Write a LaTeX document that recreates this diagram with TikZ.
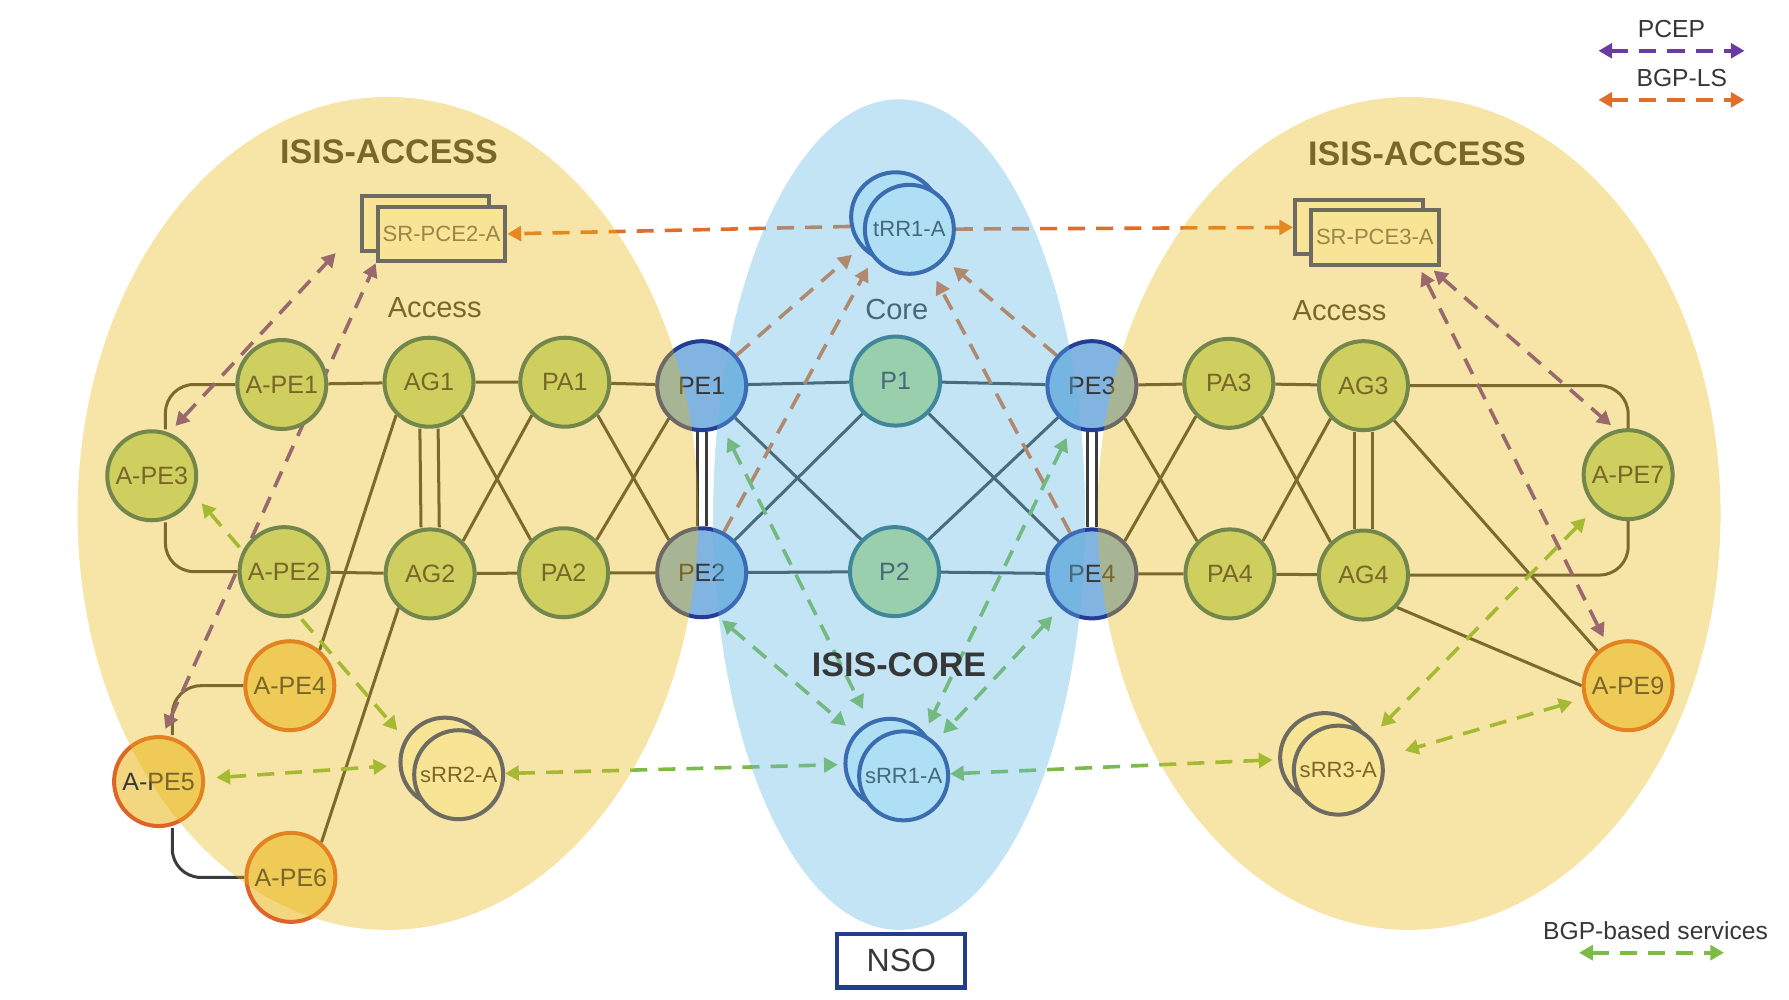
\documentclass[tikz,border=0pt]{standalone}
\usepackage{fontspec}
\setmainfont{Liberation Sans}
\usepackage{tikz}
\usetikzlibrary{arrows.meta, positioning}

\definecolor{linkgray}{RGB}{58,60,62}
\definecolor{txtgray}{RGB}{55,55,55}
\definecolor{nodegreen}{RGB}{190,222,140}
\definecolor{nodegreenline}{RGB}{45,105,108}
\definecolor{pefill}{RGB}{130,180,225}
\definecolor{peline}{RGB}{35,60,150}
\definecolor{apefill}{RGB}{242,214,128}
\definecolor{apeline}{RGB}{222,100,40}
\definecolor{rrfill}{RGB}{255,255,226}
\definecolor{corerrfill}{RGB}{222,248,255}
\definecolor{rrline}{RGB}{35,62,145}
\definecolor{nsoline}{RGB}{35,60,140}
\definecolor{pcepcol}{RGB}{105,60,165}
\definecolor{bgplscol}{RGB}{225,110,40}
\definecolor{svccol}{RGB}{125,187,70}
\definecolor{accesstint}{RGB}{234,183,20}
\definecolor{coretint}{RGB}{97,184,229}

\pgfdeclarelayer{back}
\pgfdeclarelayer{tint}
\pgfsetlayers{back,main,tint}

\begin{document}
\begin{tikzpicture}[
  router/.style={circle, draw=nodegreenline, fill=nodegreen, line width=2pt, minimum size=1.56cm, inner sep=0pt, text=txtgray, font=\fontsize{12.5}{14}\selectfont},
  pe/.style={router, draw=peline, fill=pefill},
  ape/.style={router, draw=apeline, fill=apefill},
  rr/.style={router, draw=rrline, fill=rrfill, font=\fontsize{11}{13}\selectfont},
  corerr/.style={rr, fill=corerrfill},
  pcebox/.style={rectangle, draw=rrline, fill=rrfill, line width=2pt, minimum width=2.24cm, minimum height=0.96cm, inner sep=0pt, text=txtgray!75, font=\fontsize{11}{13}\selectfont},
  nsobox/.style={rectangle, draw=nsoline, fill=white, line width=2pt, minimum width=2.24cm, minimum height=0.94cm, text=txtgray, font=\fontsize{16}{19}\selectfont},
  domaintitle/.style={text=txtgray, font=\bfseries\fontsize{17}{20}\selectfont},
  areatext/.style={text=txtgray, font=\fontsize{14.5}{17}\selectfont},
  keytext/.style={text=txtgray, font=\fontsize{12.3}{14}\selectfont},
  link/.style={draw=linkgray, line width=1.5pt},
  proto/.style={dash pattern=on 8.5pt off 5.5pt, line width=1.8pt, >={Triangle[length=0.24cm,width=0.26cm]}},
  pcep/.style={proto, color=pcepcol},
  bgpls/.style={proto, color=bgplscol},
  svc/.style={proto, color=svccol},
  accessarea/.style={fill=accesstint, fill opacity=0.374},
  corearea/.style={fill=coretint, fill opacity=0.38}
]
  \useasboundingbox (0,0) rectangle (31.36,-17.52);

  % labels
  \node[domaintitle] (accL) at (6.82,-2.66) {ISIS-ACCESS};
  \node[domaintitle] (accR) at (24.84,-2.70) {ISIS-ACCESS};
  \node[areatext] (areaL) at (7.62,-5.40) {Access};
  \node[areatext] (areaR) at (23.48,-5.44) {Access};
  \node[areatext] (areaC) at (15.72,-5.42) {Core};

  % PCEs and RRs
  \node[pcebox] (pce2b) at (7.46,-3.92) {};
  \node[pcebox] (pce2) at ([shift={(0.28,-0.18)}]pce2b) {SR-PCE2-A};
  \node[pcebox] (pce3b) at (23.82,-3.98) {};
  \node[pcebox] (pce3) at ([shift={(0.28,-0.18)}]pce3b) {SR-PCE3-A};
  \node[corerr] (trr1b) at (15.70,-3.80) {};
  \node[corerr] (trr1) at ([shift={(0.24,-0.22)}]trr1b) {tRR1-A};
  \node[rr] (srr2b) at (7.80,-13.36) {};
  \node[rr] (srr2) at ([shift={(0.24,-0.22)}]srr2b) {sRR2-A};
  \node[corerr] (srr1b) at (15.60,-13.38) {};
  \node[corerr] (srr1) at ([shift={(0.24,-0.22)}]srr1b) {sRR1-A};
  \node[rr] (srr3b) at (23.22,-13.28) {};
  \node[rr] (srr3) at ([shift={(0.24,-0.22)}]srr3b) {sRR3-A};

  % routers
  \node[router] (ape1) at (4.94,-6.74) {A-PE1};
  \node[router] (ag1) at (7.52,-6.70) {AG1};
  \node[router] (pa1) at (9.90,-6.70) {PA1};
  \node[pe] (pe1) at (12.30,-6.76) {PE1};
  \node[router] (p1) at (15.70,-6.68) {P1};
  \node[pe] (pe3) at (19.14,-6.76) {PE3};
  \node[router] (pa3) at (21.54,-6.72) {PA3};
  \node[router] (ag3) at (23.90,-6.76) {AG3};
  \node[router] (ape7) at (28.54,-8.32) {A-PE7};
  \node[router] (ape3) at (2.66,-8.34) {A-PE3};
  \node[router] (ape2) at (4.98,-10.02) {A-PE2};
  \node[router] (ag2) at (7.54,-10.06) {AG2};
  \node[router] (pa2) at (9.88,-10.04) {PA2};
  \node[pe] (pe2) at (12.30,-10.04) {PE2};
  \node[router] (p2) at (15.68,-10.02) {P2};
  \node[pe] (pe4) at (19.14,-10.06) {PE4};
  \node[router] (pa4) at (21.56,-10.06) {PA4};
  \node[router] (ag4) at (23.90,-10.08) {AG4};
  \node[ape] (ape4) at (5.08,-12.02) {A-PE4};
  \node[ape] (ape5) at (2.78,-13.70) {A-PE5};
  \node[ape] (ape6) at (5.10,-15.38) {A-PE6};
  \node[ape] (ape9) at (28.54,-12.02) {A-PE9};

  \node[nsobox] (nso) at (15.80,-16.84) {NSO};

  % legend
  \node[keytext] (keypcep) at (29.30,-0.50) {PCEP};
  \coordinate (pcepL) at (28.02,-0.89);
  \coordinate (pcepR) at (30.58,-0.89);
  \node[keytext] (keybgpls) at (29.48,-1.36) {BGP-LS};
  \coordinate (bgplsL) at (28.02,-1.75);
  \coordinate (bgplsR) at (30.58,-1.75);
  \node[keytext] (keysvc) at (29.02,-16.32) {BGP-based services};
  \coordinate (svcL) at (27.68,-16.70);
  \coordinate (svcR) at (30.22,-16.70);

  \begin{pgfonlayer}{back}
    % physical links
    \draw[link] (ape1) -- (ag1) -- (pa1) -- (pe1) -- (p1) -- (pe3) -- (pa3) -- (ag3);
    \draw[link] (ape2) -- (ag2) -- (pa2) -- (pe2) -- (p2) -- (pe4) -- (pa4) -- (ag4);
    \draw[link] (pe1) -- (p2);
    \draw[link] (p1) -- (pe2);
    \draw[link] (p1) -- (pe4);
    \draw[link] (pe3) -- (p2);
    \draw[link] (ag1.-45) -- (pa2.135);
    \draw[link] (pa1.-135) -- (ag2.45);
    \draw[link] (pa1.-45) -- (pe2.135);
    \draw[link] (pe1.-135) -- (pa2.45);
    \draw[link] (pe3.-45) -- (pa4.135);
    \draw[link] (pa3.-135) -- (pe4.45);
    \draw[link] (pa3.-45) -- (ag4.135);
    \draw[link] (ag3.-135) -- (pa4.45);
    \foreach \s in {-0.16,0.16} {
      \draw[link] ([xshift=\s cm]ag1.south) -- ([xshift=\s cm]ag2.north);
      \draw[link] ([xshift=\s cm]ag3.south) -- ([xshift=\s cm]ag4.north);
    }
    \foreach \s in {-0.08,0.08} {
      \draw[link] ([xshift=\s cm]pe1.south) -- ([xshift=\s cm]pe2.north);
      \draw[link] ([xshift=\s cm]pe3.south) -- ([xshift=\s cm]pe4.north);
    }
    \draw[link, rounded corners=0.5cm] (ape1) -| ([xshift=0.24cm]ape3.north);
    \draw[link, rounded corners=0.5cm] ([xshift=0.24cm]ape3.south) |- (ape2);
    \draw[link, rounded corners=0.5cm] (ape4) -| ([xshift=0.24cm]ape5.north);
    \draw[link, rounded corners=0.5cm] ([xshift=0.24cm]ape5.south) |- (ape6);
    \draw[link, rounded corners=0.5cm] (ag3) -| (ape7);
    \draw[link, rounded corners=0.5cm] (ape7) |- (ag4);
    \draw[link] (ag1.225) -- (ape4.50);
    \draw[link] (ag2.227) -- (ape6.49);
    \draw[link] (ag3) -- (ape9);
    \draw[link] (ag4.-44) -- (ape9.west);

    % PCEP sessions
    \draw[pcep, <->, shorten <=0.16cm] (ape3.68) -- ([xshift=-0.42cm]pce2b.south west);
    \draw[pcep, <->, shorten <=0.12cm] (ape5.85) -- (pce2.south west);
    \draw[pcep, <->, shorten <=0.1cm, shorten >=0.12cm] ([xshift=-0.2cm]pce3.south east) -- (ape7.105);
    \draw[pcep, <->, shorten <=0.1cm, shorten >=0.14cm] ([xshift=-0.38cm]pce3.south east) -- (ape9.117);

    % BGP-LS feeds
    \draw[bgpls, ->] (trr1b.192) -- (pce2.east);
    \draw[bgpls, ->] (trr1) -- (pce3b);
    \draw[bgpls, ->, shorten >=0.2cm] (pe1) -- (trr1b);
    \draw[bgpls, ->, shorten >=0.2cm] (pe2) -- (trr1b);
    \draw[bgpls, ->, shorten >=0.2cm] (pe3) -- (trr1);
    \draw[bgpls, ->, shorten >=0.2cm] (pe4) -- (trr1);

    % BGP-based services
    \draw[svc, <->, shorten <=0.2cm, shorten >=0.25cm] (pe1) -- (srr1b);
    \draw[svc, <->, shorten <=0.1cm, shorten >=0.2cm] (pe2.-70) -- (srr1b);
    \draw[svc, <->, shorten <=0.2cm, shorten >=0.2cm] (pe3) -- (srr1);
    \draw[svc, <->, shorten <=0.2cm, shorten >=0.2cm] (pe4) -- (srr1);
    \draw[svc, <->, shorten >=0.1cm] (srr2) -- (srr1b);
    \draw[svc, <->, shorten >=0.1cm] (srr1) -- (srr3b);
    \draw[svc, <->, shorten <=0.2cm, shorten >=0.2cm] (ape5) -- (srr2b);
    \draw[svc, <->, shorten <=0.2cm, shorten >=0.2cm] (ape3.-24) -- (srr2b.150);
    \draw[svc, <->, shorten <=0.25cm, shorten >=0.25cm] (ape7) -- (srr3);
    \draw[svc, <->, shorten <=0.2cm, shorten >=0.4cm] (ape9) -- (srr3);

    % legend arrows
    \draw[pcep, <->] (pcepL) -- (pcepR);
    \draw[bgpls, <->] (bgplsL) -- (bgplsR);
    \draw[svc, <->] (svcL) -- (svcR);
  \end{pgfonlayer}

  \begin{pgfonlayer}{tint}
    \fill[accessarea] (6.80,-9.00) ellipse [x radius=5.44, y radius=7.30];
    \fill[accessarea] (24.70,-9.00) ellipse [x radius=5.46, y radius=7.30];
    \fill[corearea] (15.76,-9.02) ellipse [x radius=3.26, y radius=7.28];
    \node[domaintitle] (coretitle) at (15.76,-11.66) {ISIS-CORE};
  \end{pgfonlayer}
\end{tikzpicture}
\end{document}
